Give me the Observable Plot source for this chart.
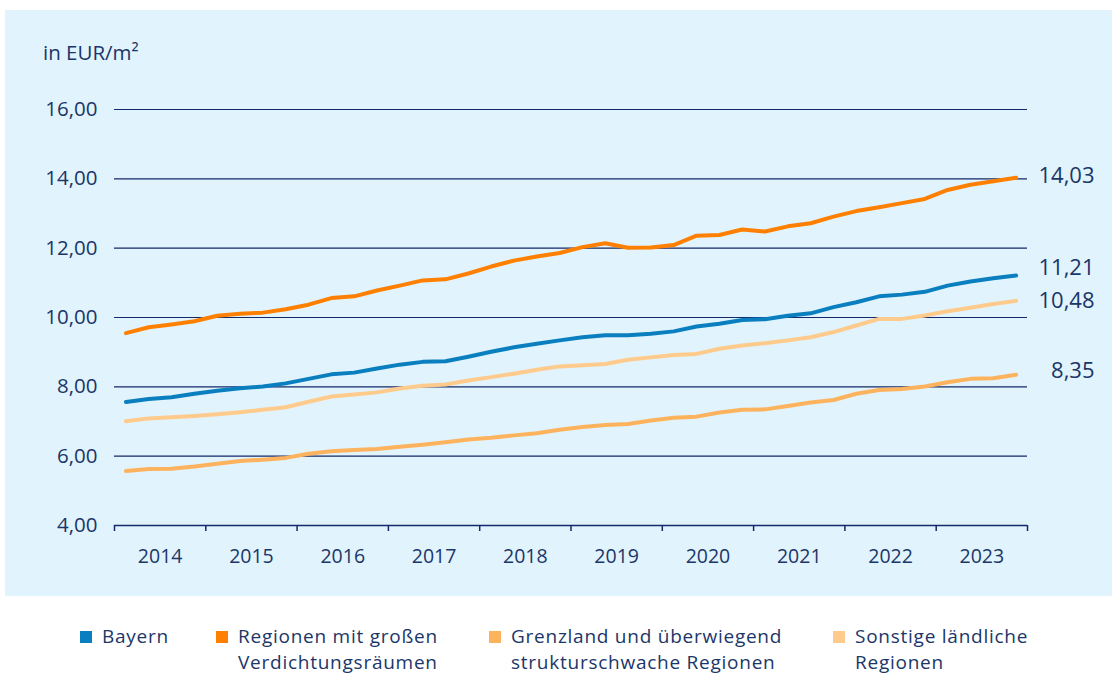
<!DOCTYPE html>
<html><head><meta charset="utf-8">
<script src="https://cdn.jsdelivr.net/npm/d3@7"></script>
<script src="https://cdn.jsdelivr.net/npm/@observablehq/plot@0.6"></script>
<style>
body{margin:0;background:#fff;font-family:"Open Sans",sans-serif;color:#1b3668;}
#panel{position:absolute;left:5px;top:10px;width:1107px;height:586px;background:#e1f3fc;}
#unit{position:absolute;left:38px;top:30px;font-size:20.5px;line-height:24px;}
#chart{position:absolute;left:0;top:0;}
.leg{position:absolute;top:623px;font-size:19px;letter-spacing:0.75px;}
.leg div{height:26px;line-height:26px;white-space:nowrap;}
.sw{position:absolute;width:12px;height:12px;top:8px;}
</style></head>
<body>
<div id="panel"><div id="unit">in EUR/m²</div><div id="chart"></div></div>
<div id="legend"></div>
<script>
const years = [2014,2015,2016,2017,2018,2019,2020,2021,2022,2023];
const seriesNames = ["Bayern","Regionen mit großen Verdichtungsräumen","Grenzland und überwiegend strukturschwache Regionen","Sonstige ländliche Regionen"];
const legendLines = [["Bayern"],["Regionen mit großen","Verdichtungsräumen"],["Grenzland und überwiegend","strukturschwache Regionen"],["Sonstige ländliche","Regionen"]];
const colors = ["#0a7fbf","#ff8000","#fdb35d","#fecb8c"];
const bayern = [7.56,7.65,7.70,7.80,7.89,7.96,8.01,8.10,8.23,8.36, 8.41,8.53,8.64,8.72,8.74,8.87,9.01,9.14,9.24,9.34, 9.43,9.49,9.49,9.53,9.60,9.74,9.82,9.93,9.95,10.05, 10.12,10.30,10.44,10.61,10.66,10.74,10.92,11.04,11.13,11.21];
const verdichtung = [9.55,9.72,9.80,9.89,10.05,10.11,10.14,10.24,10.37,10.56, 10.61,10.78,10.92,11.07,11.10,11.27,11.47,11.64,11.76,11.86, 12.03,12.14,12.01,12.02,12.09,12.36,12.38,12.54,12.48,12.63, 12.72,12.91,13.07,13.18,13.30,13.42,13.68,13.83,13.93,14.03];
const grenzland = [5.57,5.63,5.64,5.70,5.78,5.86,5.90,5.95,6.07,6.14, 6.18,6.21,6.27,6.33,6.40,6.48,6.53,6.60,6.66,6.76, 6.84,6.90,6.93,7.03,7.11,7.14,7.26,7.34,7.35,7.45, 7.55,7.62,7.80,7.91,7.94,8.01,8.13,8.23,8.25,8.35];
const laendlich = [7.01,7.09,7.12,7.16,7.21,7.27,7.34,7.41,7.57,7.72, 7.78,7.84,7.95,8.03,8.07,8.18,8.28,8.38,8.49,8.59, 8.62,8.66,8.78,8.85,8.92,8.95,9.10,9.19,9.26,9.34, 9.43,9.58,9.77,9.96,9.96,10.06,10.18,10.28,10.39,10.48];
const yTicks = [4,6,8,10,12,14,16];

const allSeries = [bayern, verdichtung, grenzland, laendlich];
const data = [];
allSeries.forEach((vals, s) => vals.forEach((v, i) => data.push({
  series: seriesNames[s], x: years[0] + (i + 0.5) / 4, y: v
})));
const last = allSeries.map((vals, s) => ({series: seriesNames[s], x: years[0] + (vals.length - 0.5) / 4, y: vals[vals.length - 1]}));
const labelDy = [-8, -2, -4, 0];
const fmt = d => d.toFixed(2).replace(".", ",");
const navy = "#13296b";
const edges = years.concat([years[years.length - 1] + 1]);
const mids = years.map(y => y + 0.5);

const plot = Plot.plot({
  width: 1107, height: 586,
  marginLeft: 109, marginRight: 85, marginTop: 99, marginBottom: 71,
  style: {background: "transparent", color: "#1b3668", fontFamily: "'Open Sans', sans-serif", fontSize: "20px"},
  x: {domain: [edges[0], edges[edges.length - 1]]},
  y: {domain: [4, 16]},
  color: {domain: seriesNames, range: colors},
  marks: [
    Plot.gridY(yTicks.slice(1), {stroke: navy, strokeOpacity: 1, strokeWidth: 1.2}),
    Plot.ruleY([4], {stroke: navy, strokeWidth: 1.5}),
    Plot.axisY({ticks: yTicks, tickSize: 0, tickPadding: 17, tickFormat: fmt, fontSize: 20.5, label: null}),
    Plot.axisX({ticks: edges, tickSize: 6, tickFormat: () => "", stroke: navy, strokeWidth: 1.5, label: null}),
    Plot.axisX({ticks: mids, tickSize: 0, tickPadding: 24, tickFormat: d => String(Math.floor(d)), fontSize: 19.5, label: null}),
    Plot.line(data, {x: "x", y: "y", z: "series", stroke: "series", strokeWidth: 4, strokeLinejoin: "round", strokeLinecap: "round"}),
    ...last.map((d, s) => Plot.text([d], {x: () => edges[edges.length - 1], y: "y", text: dd => fmt(dd.y), textAnchor: "end", dx: 67, dy: labelDy[s], fontSize: 22, fill: "#1b3668"}))
  ]
});
document.getElementById("chart").appendChild(plot);

const legendLeft = [80, 216, 489, 833];
const leg = document.getElementById("legend");
legendLines.forEach((lines, i) => {
  const div = document.createElement("div");
  div.className = "leg";
  div.style.left = legendLeft[i] + "px";
  div.style.paddingLeft = "22px";
  div.innerHTML = `<span class="sw" style="left:0;background:${colors[i]}"></span>` + lines.map(l => `<div>${l}</div>`).join("");
  leg.appendChild(div);
});
</script>
</body></html>
